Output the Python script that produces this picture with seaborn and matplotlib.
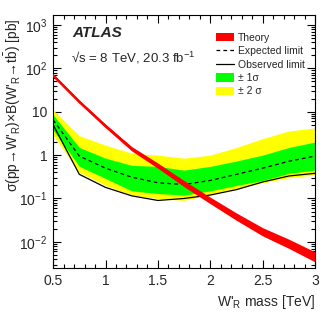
import numpy as np
import pandas as pd
import matplotlib
matplotlib.use("Agg")
import matplotlib.pyplot as plt
from matplotlib.ticker import FixedLocator, MultipleLocator, LogLocator, NullFormatter
from matplotlib.patches import Patch
from matplotlib.lines import Line2D
import seaborn as sns

# W'_R mass points [TeV]
mass = [0.5, 0.75, 1.0, 1.25, 1.5, 1.75, 2.0, 2.25, 2.5, 2.75, 3.0]

# limits on cross section x BR [pb]
observed = [5.0, 0.36, 0.18, 0.115, 0.09, 0.10, 0.12, 0.16, 0.24, 0.33, 0.38]
expected = [6.5, 0.95, 0.50, 0.31, 0.23, 0.21, 0.26, 0.36, 0.50, 0.72, 0.95]
plus_1sig = [8.5, 1.5, 0.85, 0.58, 0.55, 0.45, 0.55, 0.73, 1.0, 1.5, 2.0]
minus_1sig = [3.8, 0.55, 0.29, 0.15, 0.13, 0.12, 0.15, 0.20, 0.26, 0.38, 0.45]
plus_2sig = [11.0, 2.8, 1.7, 1.1, 1.0, 0.85, 1.0, 1.5, 2.4, 3.6, 4.2]
minus_2sig = [2.9, 0.40, 0.20, 0.12, 0.10, 0.09, 0.125, 0.17, 0.23, 0.30, 0.35]

# theory prediction band [pb]
theory_up = [74.0, 18.4, 5.15, 1.57, 0.654, 0.259, 0.107, 0.0462, 0.0212, 0.0115, 0.00586]
theory_down = [64.4, 15.7, 4.29, 1.25, 0.497, 0.187, 0.0757, 0.0313, 0.0137, 0.00706, 0.00345]
theory = [69.0, 17.0, 4.7, 1.4, 0.57, 0.22, 0.09, 0.038, 0.017, 0.009, 0.0045]

xtick_vals = [0.5, 1.0, 1.5, 2.0, 2.5, 3.0]
xtick_labels = ["0.5", "1", "1.5", "2", "2.5", "3"]
ytick_vals = [1e-2, 1e-1, 1, 10, 1e2, 1e3]
ytick_labels = [r"$10^{-2}$", r"$10^{-1}$", "1", "10", r"$10^{2}$", r"$10^{3}$"]

sns.set_style("ticks")
plt.rcParams["font.family"] = ["Liberation Sans", "DejaVu Sans"]
plt.rcParams["mathtext.fontset"] = "custom"
plt.rcParams["mathtext.rm"] = "Liberation Sans"
plt.rcParams["mathtext.it"] = "Liberation Sans:italic"
plt.rcParams["mathtext.bf"] = "Liberation Sans:bold"

df = pd.DataFrame({"mass": mass, "observed": observed, "expected": expected})

fig = plt.figure(figsize=(3.32, 3.19), dpi=100)
ax = fig.add_axes([0.16, 0.16, 0.789, 0.793])

# bands
ax.fill_between(mass, minus_2sig, plus_2sig, color="#ffff00", lw=0, zorder=1)
ax.fill_between(mass, minus_1sig, plus_1sig, color="#00ff00", lw=0, zorder=2)

sns.lineplot(data=df, x="mass", y="expected", ax=ax, color="black",
             lw=0.9, linestyle=(0, (3, 2.5)), zorder=3)
sns.lineplot(data=df, x="mass", y="observed", ax=ax, color="black",
             lw=0.9, zorder=4)

ax.fill_between(mass, theory_down, theory_up, color="#ff0000", lw=0, zorder=5)
sns.lineplot(x=mass, y=theory, ax=ax, color="#ff0000", lw=1.8, zorder=5)

ax.set_yscale("log")
ax.set_xlim(0.5, 3.0)
ax.set_ylim(2.5e-3, 1.7e3)

ax.xaxis.set_major_locator(FixedLocator(xtick_vals))
ax.set_xticklabels(xtick_labels)
ax.xaxis.set_minor_locator(MultipleLocator(0.1))
ax.yaxis.set_major_locator(FixedLocator(ytick_vals))
ax.set_yticklabels(ytick_labels)
ax.yaxis.set_minor_locator(LogLocator(base=10, subs=np.arange(2, 10)))
ax.yaxis.set_minor_formatter(NullFormatter())

ax.tick_params(which="both", direction="in", top=True, right=True,
               labelsize=10, width=0.8, color="black")
ax.tick_params(which="major", length=5.5, pad=4)
ax.tick_params(which="minor", length=2.8)
for s in ax.spines.values():
    s.set_linewidth(0.8)
    s.set_color("black")

ax.set_xlabel("W'$_{\\rm R}$ mass [TeV]", fontsize=10, loc="right")
ax.set_ylabel("σ(pp→W'$_{\\rm R}$)×B(W'$_{\\rm R}$→t$\\bar{\\rm b}$) [pb]",
              fontsize=10, loc="top")
ax.yaxis.set_label_coords(-0.115, 0.985)
ax.xaxis.set_label_coords(1.0, -0.1)

ax.text(0.075, 0.93, "ATLAS", transform=ax.transAxes, fontsize=11,
        fontweight="bold", fontstyle="italic", va="center")
ax.text(0.07, 0.83, "√s = 8 TeV, 20.3 fb$^{-1}$", transform=ax.transAxes,
        fontsize=9.5, va="center")

handles = [
    Patch(facecolor="#ff0000", edgecolor="none"),
    Line2D([], [], color="black", lw=0.9, linestyle=(0, (3, 2.5))),
    Line2D([], [], color="black", lw=0.9),
    Patch(facecolor="#00ff00", edgecolor="none"),
    Patch(facecolor="#ffff00", edgecolor="none"),
]
labels = ["Theory", "Expected limit", "Observed limit", "± 1σ", "± 2 σ"]
ax.legend(handles, labels, loc="upper left", bbox_to_anchor=(0.62, 0.93),
          frameon=False, fontsize=7.5, handlelength=1.8, handleheight=0.9,
          handletextpad=0.35, labelspacing=0.33, borderaxespad=0,
          borderpad=0)

fig.savefig("out.png", dpi=100)
